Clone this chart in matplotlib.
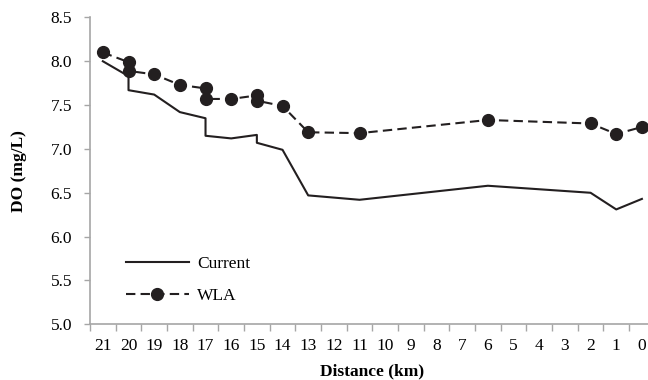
import matplotlib.pyplot as plt
from matplotlib.ticker import FixedLocator

# --- data ---
current_km = [21, 20, 20, 19, 18, 17, 17, 16, 15, 15, 14, 13, 11, 6, 2, 1, 0]
current_do = [8.00, 7.83, 7.67, 7.62, 7.42, 7.35, 7.15, 7.12, 7.16, 7.07,
              6.99, 6.47, 6.42, 6.58, 6.50, 6.31, 6.43]

wla_km = [21, 20, 20, 19, 18, 17, 17, 16, 15, 15, 14, 13, 11, 6, 2, 1, 0]
wla_do = [8.10, 7.99, 7.89, 7.85, 7.73, 7.69, 7.57, 7.57, 7.61, 7.55,
          7.49, 7.19, 7.18, 7.33, 7.29, 7.17, 7.25]

km_ticks = list(range(21, -1, -1))
do_ticks = [5.0, 5.5, 6.0, 6.5, 7.0, 7.5, 8.0, 8.5]

plt.rcParams['font.family'] = ['Liberation Serif', 'DejaVu Serif']
plt.rcParams['font.size'] = 12.5

ink = '#231f20'
grey = '#a6a6a6'

fig = plt.figure(figsize=(6.48, 3.8), dpi=100)
ax = fig.add_axes([0.1389, 0.1466, 0.8715, 0.8076])

ax.plot(current_km, current_do, color=ink, lw=1.5, label='Current')
ax.plot(wla_km, wla_do, color=ink, lw=1.5, dashes=(4.5, 2.5),
        marker='o', ms=8.5, label='WLA')

ax.set_xlim(21.5, -0.5)
ax.set_ylim(5.0, 8.5)

# categories labelled in the middle, tick marks between them
ax.set_xticks(km_ticks)
ax.set_xticklabels([str(k) for k in km_ticks])
ax.xaxis.set_minor_locator(FixedLocator([k + 0.5 for k in range(-1, 22)]))
ax.tick_params(axis='x', which='major', length=0, pad=10)
ax.tick_params(axis='x', which='minor', length=5, width=1, color=grey)

ax.set_yticks(do_ticks)
ax.set_yticklabels([f'{v:.1f}' for v in do_ticks])
ax.tick_params(axis='y', length=4, width=1, color=grey, pad=9)

for side in ['top', 'right']:
    ax.spines[side].set_visible(False)
for side in ['left', 'bottom']:
    ax.spines[side].set_color(grey)
    ax.spines[side].set_linewidth(1.2)

ax.set_xlabel('Distance (km)', fontweight='bold')
ax.set_ylabel('DO (mg/L)', fontweight='bold')
ax.yaxis.set_label_coords(-0.112, 0.5)
ax.xaxis.set_label_coords(0.5, -0.128)

ax.legend(loc='lower left', bbox_to_anchor=(0.064, 0.066), frameon=False,
          borderpad=0, borderaxespad=0, handlelength=3.6, handletextpad=0.5,
          labelspacing=0.9)

fig.savefig('out.png', dpi=100)
